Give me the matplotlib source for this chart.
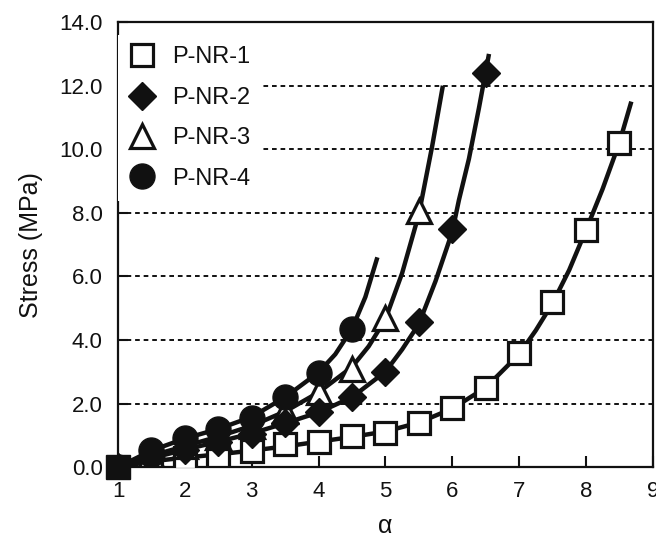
import matplotlib

matplotlib.use("Agg")
import matplotlib.pyplot as plt

plt.rcParams["font.family"] = ["Liberation Sans", "DejaVu Sans"]

# measured points (alpha, stress in MPa)
alpha_1 = [1.0, 1.5, 2.0, 2.5, 3.0, 3.5, 4.0, 4.5, 5.0, 5.5, 6.0, 6.5, 7.0, 7.5, 8.0, 8.5]
stress_1 = [0.0, 0.2, 0.28, 0.35, 0.52, 0.72, 0.8, 0.98, 1.07, 1.38, 1.86, 2.48, 3.6, 5.2, 7.45, 10.2]

alpha_2 = [1.0, 1.5, 2.0, 2.5, 3.0, 3.5, 4.0, 4.5, 5.0, 5.5, 6.0, 6.5]
stress_2 = [0.0, 0.3, 0.55, 0.8, 1.05, 1.38, 1.72, 2.2, 3.0, 4.56, 7.48, 12.4]

alpha_3 = [1.0, 1.5, 2.0, 2.5, 3.0, 3.5, 4.0, 4.5, 5.0, 5.5]
stress_3 = [0.0, 0.38, 0.65, 0.95, 1.3, 1.75, 2.35, 3.1, 4.7, 8.05]

alpha_4 = [1.0, 1.5, 2.0, 2.5, 3.0, 3.5, 4.0, 4.5]
stress_4 = [0.0, 0.55, 0.92, 1.2, 1.55, 2.2, 2.95, 4.35]

# fitted curves (they run past the last point)
fit_alpha_1 = [1.0, 1.5, 2.0, 2.5, 3.0, 3.5, 4.0, 4.5, 5.0, 5.5, 6.0, 6.5,
               7.0, 7.25, 7.5, 7.75, 8.0, 8.25, 8.5, 8.68]
fit_stress_1 = [0.0, 0.18, 0.3, 0.4, 0.52, 0.65, 0.8, 0.95, 1.12, 1.4, 1.84, 2.5,
                3.55, 4.3, 5.15, 6.2, 7.45, 8.75, 10.2, 11.5]
fit_alpha_2 = [1.0, 1.5, 2.0, 2.5, 3.0, 3.5, 4.0, 4.5, 5.0, 5.25, 5.5, 5.75,
               6.0, 6.1, 6.25, 6.4, 6.55]
fit_stress_2 = [0.0, 0.28, 0.55, 0.8, 1.06, 1.38, 1.72, 2.2, 3.0, 3.7, 4.5, 5.85,
                7.4, 8.4, 9.7, 11.3, 13.0]
fit_alpha_3 = [1.0, 1.5, 2.0, 2.5, 3.0, 3.5, 4.0, 4.5, 4.75, 5.0, 5.25, 5.5,
               5.7, 5.86]
fit_stress_3 = [0.0, 0.36, 0.66, 0.96, 1.3, 1.75, 2.35, 3.15, 3.8, 4.65, 6.1, 7.95,
                10.1, 12.0]
fit_alpha_4 = [1.0, 1.5, 2.0, 2.5, 3.0, 3.5, 4.0, 4.25, 4.5, 4.7, 4.88]
fit_stress_4 = [0.0, 0.52, 0.9, 1.2, 1.58, 2.2, 2.98, 3.55, 4.35, 5.35, 6.6]

labels = ["P-NR-1", "P-NR-2", "P-NR-3", "P-NR-4"]

fig = plt.figure(figsize=(6.56, 5.40), dpi=100)
ax = fig.add_axes([0.180, 0.135, 0.815, 0.824])

ink = "#111111"
lw_fit = 3.2

for fa, fs in [(fit_alpha_1, fit_stress_1), (fit_alpha_2, fit_stress_2),
               (fit_alpha_3, fit_stress_3), (fit_alpha_4, fit_stress_4)]:
    ax.plot(fa, fs, color=ink, lw=lw_fit, zorder=2, solid_capstyle="butt",
            solid_joinstyle="round")

ax.plot(alpha_1[1:], stress_1[1:], ls="none", marker="s", ms=15.5, mfc="white",
        mec=ink, mew=2.3, zorder=3, label=labels[0])
ax.plot(alpha_2, stress_2, ls="none", marker="D", ms=14, mfc=ink, mec=ink,
        zorder=4, label=labels[1])
ax.plot(alpha_3, stress_3, ls="none", marker="^", ms=17, mfc="white", mec=ink,
        mew=2.3, zorder=3, label=labels[2])
ax.plot(alpha_4, stress_4, ls="none", marker="o", ms=18, mfc=ink, mec=ink,
        zorder=4, label=labels[3])
# the overlapping points at the origin show up as a solid square
ax.plot(alpha_1[:1], stress_1[:1], ls="none", marker="s", ms=17, mfc=ink,
        mec=ink, zorder=5, clip_on=False)

ax.set_xlim(1, 9)
ax.set_ylim(0, 14)
ax.set_xticks(range(1, 10))
ax.set_yticks([0, 2, 4, 6, 8, 10, 12, 14])
ax.set_yticklabels([f"{v:.1f}" for v in [0, 2, 4, 6, 8, 10, 12, 14]])

for y in [2, 4, 6, 8, 10, 12]:
    ax.axhline(y, color=ink, lw=1.4, ls=(0, (2.4, 2.0)), zorder=1)

ax.tick_params(direction="in", length=8, width=1.5, labelsize=16, colors=ink)
ax.tick_params(axis="x", pad=10)
ax.tick_params(axis="y", length=7, pad=11)
for side in ax.spines.values():
    side.set_linewidth(1.6)
    side.set_color(ink)

ax.set_ylabel("Stress (MPa)", fontsize=18, color=ink, labelpad=12)
ax.set_xlabel("α", fontsize=18, color=ink, labelpad=9)

leg = ax.legend(loc="upper left", bbox_to_anchor=(0.0, 0.972), fontsize=17,
                frameon=True, framealpha=1, facecolor="white", edgecolor="none",
                handlelength=1.0, handletextpad=0.8, labelspacing=0.78,
                borderpad=0.5, borderaxespad=0.0, fancybox=False,
                markerscale=1.0)
leg.set_zorder(6)
for text in leg.get_texts():
    text.set_color(ink)

fig.savefig("out.png", dpi=100)
plt.close(fig)
